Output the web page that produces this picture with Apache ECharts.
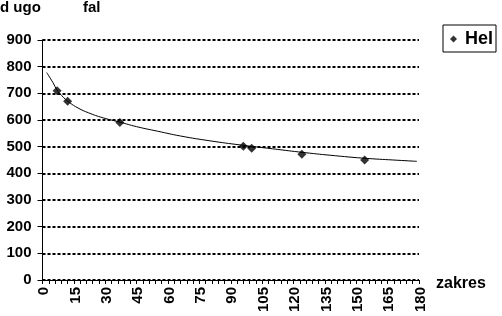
<!DOCTYPE html>
<html>
<head>
<meta charset="utf-8">
<script src="https://cdn.jsdelivr.net/npm/echarts@6/dist/echarts.min.js"></script>
<style>
html,body{margin:0;padding:0;background:#fff;}
#c{width:502px;height:316px;}
</style>
</head>
<body>
<div id="c"></div>
<script>
// Measured points (zakres vs długość fal)
const helX = [7, 12, 37, 96, 100, 124, 154];
const helY = [710, 670, 591, 502, 494, 472, 450];
// Trend line
const trendX = [2, 5, 7, 10, 13, 17, 22, 29, 37, 45, 55, 66, 80, 95, 110, 125, 140, 155, 170, 179];
const trendY = [778, 740, 712, 685, 665, 645, 627, 608, 592, 575, 558, 540, 522, 506, 492, 478, 466, 456, 449, 445];
const seriesName = 'Hel';
const yTitleParts = ['d ugo', 'fal'];   // "d ugo    fal"
const xTitle = 'zakres';

const F = 'Liberation Sans, Arial, sans-serif';
const chart = echarts.init(document.getElementById('c'), null, {renderer: 'canvas'});
chart.setOption({
  animation: false,
  backgroundColor: '#fff',
  grid: {left: 42.5, right: 83, top: 40, bottom: 36, containLabel: false},
  graphic: [
    {type: 'text', left: 0, top: 0, style: {text: yTitleParts[0], font: 'bold 15px ' + F, fill: '#000'}},
    {type: 'text', left: 83, top: 0, style: {text: yTitleParts[1], font: 'bold 15px ' + F, fill: '#000'}},
    {type: 'text', left: 436, top: 276, style: {text: xTitle, font: 'bold 16px ' + F, fill: '#000'}}
  ],
  legend: {
    data: [{name: seriesName, icon: 'diamond'}],
    left: 443, top: 25,
    orient: 'vertical',
    borderColor: '#000', borderWidth: 1, borderRadius: 0,
    padding: [5, 3, 4, 7],
    itemWidth: 7, itemHeight: 7, itemGap: 0,
    textStyle: {fontFamily: F, fontWeight: 'bold', fontSize: 18, color: '#000', padding: [0, 0, 0, 3]}
  },
  xAxis: {
    type: 'value', min: 0, max: 180, interval: 15,
    axisLine: {show: true, lineStyle: {color: '#000', width: 1}},
    axisTick: {show: true, length: 4, lineStyle: {color: '#000'}},
    minorTick: {show: true, splitNumber: 5, length: 4, lineStyle: {color: '#000'}},
    splitLine: {show: false},
    axisLabel: {rotate: 90, margin: 7, verticalAlign: 'top', lineHeight: 17,
      fontFamily: F, fontWeight: 'bold', fontSize: 15, color: '#000', padding: [-7, 0, 0, 0]}
  },
  yAxis: {
    type: 'value', min: 0, max: 900, interval: 100,
    axisLine: {show: true, lineStyle: {color: '#000', width: 1}},
    axisTick: {show: true, length: 5, lineStyle: {color: '#000'}},
    splitLine: {show: true, lineStyle: {color: '#000', width: 2, type: [3, 2]}},
    axisLabel: {margin: 11, fontFamily: F, fontWeight: 'bold', fontSize: 15, color: '#000'}
  },
  series: [
    {
      name: 'trend', type: 'line', smooth: true, symbol: 'none',
      data: trendX.map((x, i) => [x, trendY[i]]),
      lineStyle: {color: '#000', width: 1}, z: 2
    },
    {
      name: seriesName, type: 'scatter', symbol: 'diamond', symbolSize: 9,
      data: helX.map((x, i) => [x, helY[i]]),
      itemStyle: {color: '#000'}, z: 3
    }
  ]
});
</script>
</body>
</html>
